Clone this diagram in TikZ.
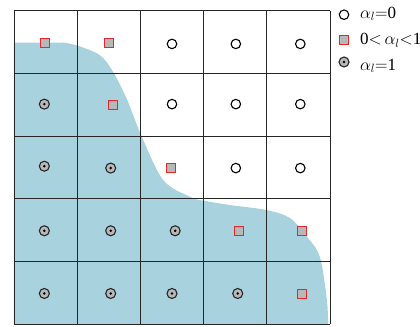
\documentclass[tikz,border=0pt]{standalone}
\usepackage{fontspec}
\setmainfont{Liberation Serif}
\definecolor{fluid}{RGB}{168,210,222}
\definecolor{cellgray}{gray}{0.72}
\definecolor{mixred}{RGB}{230,40,45}
\usetikzlibrary{positioning}
\begin{document}
\begin{tikzpicture}[
  x=63.2pt, y=-62.7pt,
  font=\fontsize{17}{20}\selectfont,
  empty/.style={circle, draw=black, line width=1.1pt, fill=white, minimum size=9.5pt, inner sep=0pt},
  full/.style={circle, draw=black!85, line width=1.1pt, fill=cellgray, minimum size=10pt, inner sep=0pt,
    path picture={\fill[black] (path picture bounding box.center) circle (1.4pt);}},
  mixed/.style={rectangle, draw=mixred, line width=0.9pt, fill=cellgray, minimum size=9pt, inner sep=0pt},
  label/.style={anchor=base west, inner sep=0pt}
]
  \useasboundingbox (-0.2215,-0.1707) rectangle (6.424,5.029);

  % Fluide
  \fill[fluid] (0,5) -- (0,0.51) -- (0.80,0.51)
    -- plot[smooth, tension=0.55] coordinates {(0.80,0.51) (1.01,0.56) (1.36,0.71) (1.57,0.98) (1.79,1.42)
      (2.01,1.98) (2.36,2.70) (2.79,2.97) (3.0,3.03) (3.42,3.10) (4.0,3.18) (4.37,3.31) (4.64,3.61)
      (4.84,3.93) (4.95,4.61) (4.97,5)} -- cycle;

  % Grille
  \foreach \i in {0,...,5} {
    \draw[black!85, line width=0.9pt] (\i,0) -- (\i,5);
    \draw[black!85, line width=0.9pt] (0,\i) -- (5,\i);
  }

  % Cellules vides
  \foreach \x/\y [count=\k] in {2.5/0.53, 3.51/0.53, 4.53/0.53,
                                2.5/1.49, 3.51/1.49, 4.53/1.49,
                                3.51/2.51, 4.53/2.51} {
    \node[empty] (e\k) at (\x,\y) {};
  }

  % Cellules pleines
  \foreach \x/\y [count=\k] in {0.48/1.49,
                                0.48/2.48, 1.53/2.51,
                                0.48/3.51, 1.53/3.51, 2.55/3.51,
                                0.48/4.51, 1.53/4.51, 2.5/4.51, 3.54/4.51} {
    \node[full] (f\k) at (\x,\y) {};
  }

  % Cellules d'interface
  \foreach \x/\y [count=\k] in {0.49/0.51, 1.50/0.51, 1.56/1.51, 2.49/2.50,
                                3.56/3.51, 4.55/3.51, 4.55/4.51} {
    \node[mixed] (m\k) at (\x,\y) {};
  }

  % Légende
  \node[empty] (le) at (5.222,0.064) {};
  \node[mixed] (lm) at (5.222,0.467) {};
  \node[full] (lf) at (5.222,0.818) {};
  \node[label] (te) at (5.475,0.121) {$\alpha_{l}{=}$0};
  \node[label] (tm) at (5.475,0.547) {0$<$\,$\alpha_{l}{<}$1};
  \node[label] (tf) at (5.475,0.946) {$\alpha_{l}{=}$1};
\end{tikzpicture}
\end{document}
